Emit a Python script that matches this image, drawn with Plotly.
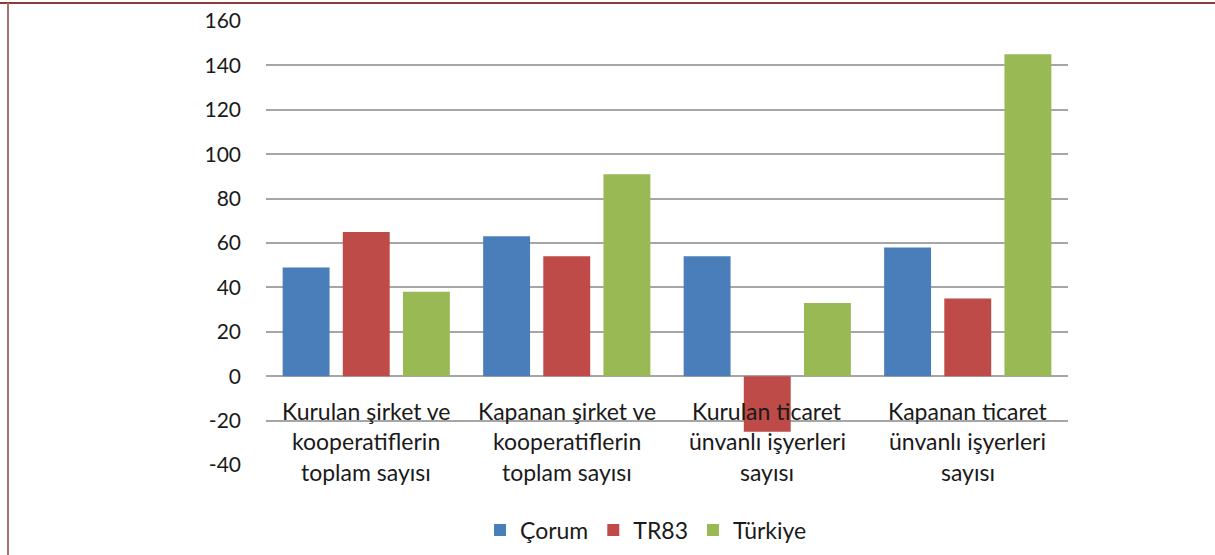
import plotly.graph_objects as go

categories = ["Kurulan şirket ve kooperatiflerin toplam sayısı",
              "Kapanan şirket ve kooperatiflerin toplam sayısı",
              "Kurulan ticaret ünvanlı işyerleri sayısı",
              "Kapanan ticaret ünvanlı işyerleri sayısı"]
label_lines = [["Kurulan şirket ve", "kooperatiflerin", "toplam sayısı"],
               ["Kapanan şirket ve", "kooperatiflerin", "toplam sayısı"],
               ["Kurulan ticaret", "ünvanlı işyerleri", "sayısı"],
               ["Kapanan ticaret", "ünvanlı işyerleri", "sayısı"]]
series_names = ["Çorum", "TR83", "Türkiye"]
corum = [49, 63, 54, 58]
tr83 = [65, 54, -25, 35]
turkiye = [38, 91, 33, 145]
colors = ["#4A7EBB", "#BE4B48", "#98B954"]
y_ticks = list(range(-40, 161, 20))
y_ticktext = [str(v) for v in y_ticks]

W, H = 1215, 555
L, R, T, B = 266, 1068, 21, 465
px = lambda p: (p - L) / (R - L)
py = lambda p: (B - p) / (B - T)

fig = go.Figure()
for name, vals, c in zip(series_names, [corum, tr83, turkiye], colors):
    fig.add_trace(go.Bar(x=categories, y=vals, name=name, marker=dict(color=c, line=dict(width=0)),
                         hoverinfo="skip"))

font = "Lato, 'Open Sans', sans-serif"
ann = []
line_y = [411, 441, 472]
for cat, lines in zip(categories, label_lines):
    for ln, yy in zip(lines, line_y):
        ann.append(dict(x=cat, xref="x", y=py(yy), yref="paper", text=ln, showarrow=False,
                        xanchor="center", yanchor="middle",
                        font=dict(family=font, size=23, color="#1a1a1a")))

fig.update_layout(
    width=W, height=H,
    margin=dict(l=L, r=W - R, t=T, b=H - B, autoexpand=False),
    paper_bgcolor="white", plot_bgcolor="white",
    barmode="group", bargap=0.1, bargroupgap=0.22,
    font=dict(family=font, size=21, color="#1a1a1a"),
    xaxis=dict(showticklabels=False, showgrid=False, showline=False, ticks="", zeroline=False),
    yaxis=dict(range=[-40, 160], tickvals=y_ticks, ticktext=y_ticktext, showgrid=True,
               gridcolor="#A6A6A6", gridwidth=2,
               zeroline=True, zerolinecolor="#A6A6A6", zerolinewidth=2, showline=False,
               ticks="", ticklabelstandoff=24, tickfont=dict(family=font, size=21, color="#1a1a1a")),
    legend=dict(orientation="h", x=px(646), xanchor="center", y=py(530), yanchor="middle",
                font=dict(family=font, size=23, color="#1a1a1a"), itemwidth=30,
                bgcolor="rgba(0,0,0,0)"),
    annotations=ann,
    shapes=[
        dict(type="line", xref="paper", yref="paper", x0=px(0), x1=px(W), y0=py(3), y1=py(3),
             line=dict(color="#8E3B38", width=2)),
        dict(type="line", xref="paper", yref="paper", x0=px(8), x1=px(8), y0=py(3), y1=py(H),
             line=dict(color="#A8736D", width=2)),
    ],
)
fig.write_html("out.html", config={"displayModeBar": False},
               post_script="document.body.style.margin='0';document.body.style.overflow='hidden';")
